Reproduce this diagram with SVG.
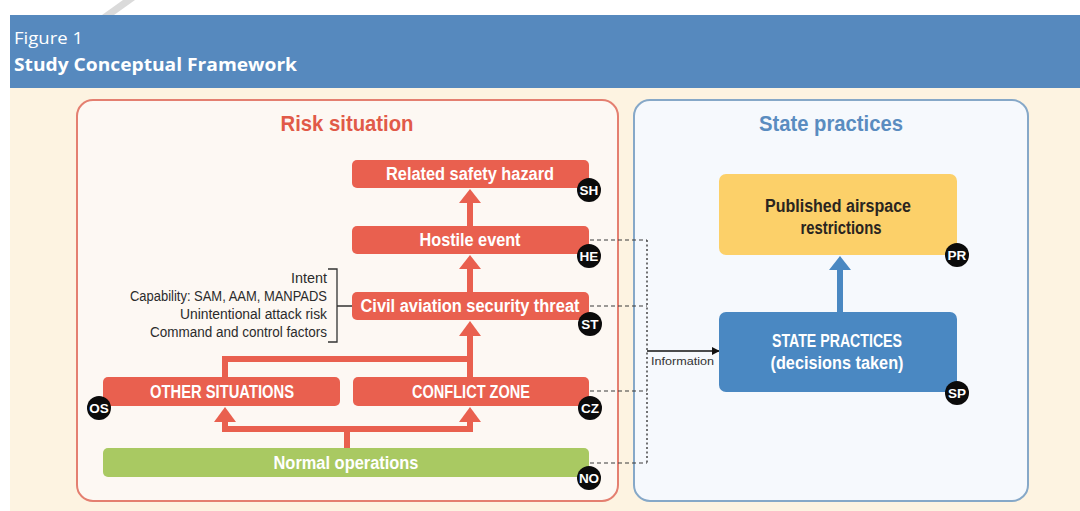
<svg xmlns="http://www.w3.org/2000/svg" width="1080" height="511" viewBox="0 0 1080 511">
  <defs>
    <style>
      .hdr { fill: #ffffff; font-family: "Open Sans", "Liberation Sans", sans-serif; }
      .panel-title { font-family: "Liberation Sans", Arial, sans-serif; font-weight: bold; font-size: 22px; text-anchor: middle; }
      .red { fill: #E9604F; }
      .lbl { font-family: "Liberation Sans", Arial, sans-serif; font-weight: bold; font-size: 18px; fill: #ffffff; text-anchor: middle; }
      .lbl-dark { font-family: "Liberation Sans", Arial, sans-serif; font-weight: bold; font-size: 18px; fill: #2a2520; text-anchor: middle; }
      .note { font-family: "Liberation Sans", Arial, sans-serif; font-size: 14px; fill: #2b2b2b; text-anchor: end; }
      .badge circle { fill: #0b0b0b; }
      .badge text { font-family: "Liberation Sans", Arial, sans-serif; font-weight: bold; font-size: 13.5px; fill: #ffffff; text-anchor: middle; }
      .dash { fill: none; stroke: #3a3a3a; stroke-width: 1.2; stroke-dasharray: 4 3; }
      .dot { fill: none; stroke: #3a3a3a; stroke-width: 1.4; stroke-dasharray: 2 2.5; }
      .flow { fill: none; stroke: #E9604F; stroke-width: 6; }
    </style>
    <marker id="info-head" viewBox="0 0 10 10" refX="9" refY="5" markerWidth="8" markerHeight="8" markerUnits="userSpaceOnUse" orient="auto">
      <path d="M0,0 L10,5 L0,10 Z" fill="#111"/>
    </marker>
  </defs>

  <!-- page background -->
  <rect x="0" y="0" width="1080" height="511" fill="#ffffff"/>
  <polygon points="123,0 135,0 114,15 102,15" fill="#dadada"/>

  <!-- header band -->
  <rect x="10" y="15" width="1070" height="73" fill="#5689BE"/>
  <text class="hdr" x="14" y="44" font-size="16" textLength="69" lengthAdjust="spacingAndGlyphs">Figure 1</text>
  <text class="hdr" x="14" y="71" font-size="17" font-weight="bold" textLength="283" lengthAdjust="spacingAndGlyphs">Study Conceptual Framework</text>

  <!-- cream body -->
  <rect x="10" y="88" width="1070" height="423" fill="#FDF3E1"/>

  <!-- panels -->
  <g id="risk-panel">
    <rect x="77" y="100" width="541" height="401" rx="16" fill="#FDF8F3" stroke="#E47F70" stroke-width="2"/>
    <text class="panel-title" x="347" y="131" fill="#E15A48" textLength="133" lengthAdjust="spacingAndGlyphs">Risk situation</text>
  </g>
  <g id="state-panel">
    <rect x="634" y="100" width="394" height="401" rx="16" fill="#F6F9FD" stroke="#86A8C8" stroke-width="2"/>
    <text class="panel-title" x="831" y="131" fill="#5A8CC0" textLength="144" lengthAdjust="spacingAndGlyphs">State practices</text>
  </g>

  <!-- connectors -->
  <g id="connectors">
    <!-- upward red flow arrows -->
    <rect class="red" x="467" y="202" width="6" height="24"/>
    <polygon class="red" points="459,203 481,203 470,189"/>
    <rect class="red" x="467" y="268" width="6" height="24"/>
    <polygon class="red" points="459,269 481,269 470,255"/>
    <rect class="red" x="467" y="334" width="6" height="43"/>
    <polygon class="red" points="459,336 481,336 470,321"/>
    <path class="flow" d="M225,377 V359 H470"/>
    <path class="flow" d="M347,448 V429 M222,429 H473 M225,429 V420 M470,429 V420"/>
    <polygon class="red" points="214,422 236,422 225,407"/>
    <polygon class="red" points="459,422 481,422 470,407"/>

    <!-- bracket of threat factors -->
    <path d="M328,269 H337 V342 H328 M337,306 H353" fill="none" stroke="#333" stroke-width="1.3"/>

    <!-- information links -->
    <path class="dash" d="M590,240 H647 M590,306 H647 M590,391 H647 M590,463 H647"/>
    <path class="dot" d="M647,240 V463"/>
    <line x1="647" y1="351" x2="719" y2="351" stroke="#111" stroke-width="1.3" marker-end="url(#info-head)"/>
    <text x="651" y="365" font-family="Liberation Sans, Arial, sans-serif" font-size="11.5" fill="#333" textLength="63" lengthAdjust="spacingAndGlyphs">Information</text>

    <!-- decisions lead to restrictions -->
    <rect x="837" y="268" width="6" height="44" fill="#4A88C2"/>
    <polygon points="829,270 851,270 840,256" fill="#4A88C2"/>
  </g>

  <!-- threat factors -->
  <g id="threat-factors">
    <text class="note" x="327" y="283" textLength="36" lengthAdjust="spacingAndGlyphs">Intent</text>
    <text class="note" x="327" y="301" textLength="197" lengthAdjust="spacingAndGlyphs">Capability: SAM, AAM, MANPADS</text>
    <text class="note" x="327" y="319" textLength="147" lengthAdjust="spacingAndGlyphs">Unintentional attack risk</text>
    <text class="note" x="327" y="337" textLength="177" lengthAdjust="spacingAndGlyphs">Command and control factors</text>
  </g>

  <!-- risk nodes -->
  <g id="node-SH">
    <rect class="red" x="352" y="160" width="237" height="28" rx="5"/>
    <text class="lbl" x="470" y="180" textLength="168" lengthAdjust="spacingAndGlyphs">Related safety hazard</text>
    <g class="badge"><circle cx="589" cy="190" r="12"/><text x="589" y="195">SH</text></g>
  </g>
  <g id="node-HE">
    <rect class="red" x="352" y="226" width="237" height="28" rx="5"/>
    <text class="lbl" x="470" y="246" textLength="101" lengthAdjust="spacingAndGlyphs">Hostile event</text>
    <g class="badge"><circle cx="589" cy="256" r="12"/><text x="589" y="261">HE</text></g>
  </g>
  <g id="node-ST">
    <rect class="red" x="352" y="292" width="237" height="28" rx="5"/>
    <text class="lbl" x="470" y="312" textLength="219" lengthAdjust="spacingAndGlyphs">Civil aviation security threat</text>
    <g class="badge"><circle cx="590" cy="324" r="12"/><text x="590" y="329">ST</text></g>
  </g>
  <g id="node-OS">
    <rect class="red" x="103" y="377" width="237" height="29" rx="5"/>
    <text class="lbl" x="222" y="398" textLength="144" lengthAdjust="spacingAndGlyphs">OTHER SITUATIONS</text>
    <g class="badge"><circle cx="99" cy="408" r="12"/><text x="99" y="413">OS</text></g>
  </g>
  <g id="node-CZ">
    <rect class="red" x="353" y="377" width="236" height="29" rx="5"/>
    <text class="lbl" x="471" y="398" textLength="118" lengthAdjust="spacingAndGlyphs">CONFLICT ZONE</text>
    <g class="badge"><circle cx="590" cy="408" r="12"/><text x="590" y="413">CZ</text></g>
  </g>
  <g id="node-NO">
    <rect x="103" y="448" width="486" height="29" rx="5" fill="#A9C962"/>
    <text class="lbl" x="346" y="469" textLength="145" lengthAdjust="spacingAndGlyphs" fill="#F4F8EA">Normal operations</text>
    <g class="badge"><circle cx="589" cy="478" r="12"/><text x="589" y="483">NO</text></g>
  </g>

  <!-- state nodes -->
  <g id="node-PR">
    <rect x="719" y="174" width="238" height="81" rx="7" fill="#FCD069"/>
    <text class="lbl-dark" x="838" y="212" textLength="146" lengthAdjust="spacingAndGlyphs">Published airspace</text>
    <text class="lbl-dark" x="841" y="234" textLength="81" lengthAdjust="spacingAndGlyphs">restrictions</text>
    <g class="badge"><circle cx="957" cy="255" r="12"/><text x="957" y="260">PR</text></g>
  </g>
  <g id="node-SP">
    <rect x="719" y="312" width="238" height="80" rx="7" fill="#4A88C2"/>
    <text class="lbl" x="837" y="347" textLength="130" lengthAdjust="spacingAndGlyphs" fill="#EDF3FA">STATE PRACTICES</text>
    <text class="lbl" x="837" y="369" textLength="133" lengthAdjust="spacingAndGlyphs" fill="#EDF3FA">(decisions taken)</text>
    <g class="badge"><circle cx="957" cy="393" r="12"/><text x="957" y="398">SP</text></g>
  </g>
</svg>
